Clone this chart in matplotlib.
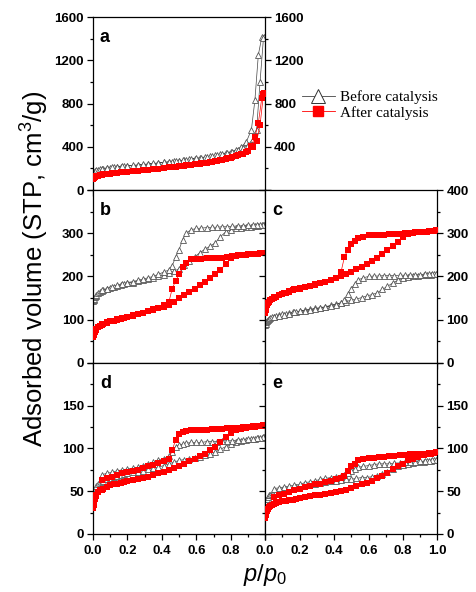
import matplotlib
matplotlib.use("Agg")
import matplotlib.pyplot as plt
from matplotlib.lines import Line2D
from matplotlib.ticker import MultipleLocator, FuncFormatter, FixedLocator

plt.rcParams['font.family'] = ['Liberation Sans', 'DejaVu Sans']
plt.rcParams['mathtext.fontset'] = 'custom'
plt.rcParams['mathtext.rm'] = 'Liberation Sans'
plt.rcParams['mathtext.it'] = 'Liberation Sans:italic'

# relative pressure grids (adsorption branch, then desorption branch)
p_ads = [0.001, 0.003, 0.006, 0.01, 0.015, 0.02, 0.03, 0.04, 0.05, 0.06, 0.08, 0.10,
         0.12, 0.14, 0.16, 0.18, 0.20, 0.23, 0.26, 0.29, 0.32, 0.35, 0.38, 0.41, 0.44,
         0.47, 0.50, 0.53, 0.56, 0.59, 0.62, 0.65, 0.68, 0.71, 0.74, 0.77, 0.80, 0.83,
         0.86, 0.89, 0.92, 0.94, 0.96, 0.98, 0.995]
p_des = [0.99, 0.97, 0.95, 0.93, 0.90, 0.87, 0.84, 0.81, 0.78, 0.75, 0.72, 0.69, 0.66,
         0.63, 0.60, 0.57, 0.54, 0.52, 0.50, 0.48, 0.46, 0.44, 0.41, 0.38, 0.35, 0.32,
         0.29, 0.26, 0.23, 0.20, 0.17, 0.14, 0.11, 0.08, 0.05]

# panel a
a_before_ads = [150, 160, 168, 175, 180, 184, 189, 193, 196, 199, 203, 207, 211, 214, 217,
                220, 223, 227, 231, 236, 240, 245, 250, 255, 260, 265, 271, 277, 283, 290,
                297, 305, 313, 322, 332, 342, 355, 372, 400, 444, 560, 830, 1250, 1415, 1420]
a_before_des = [1410, 1000, 560, 470, 420, 390, 370, 355, 345, 335, 325, 316, 308, 300, 293,
                286, 280, 276, 272, 268, 264, 261, 256, 251, 246, 241, 237, 232, 228, 224,
                219, 215, 209, 204, 197]
a_after_ads = [105, 112, 118, 122, 126, 130, 134, 138, 141, 144, 148, 152, 156, 160, 163,
               167, 170, 175, 180, 184, 189, 194, 199, 204, 209, 214, 220, 226, 232, 238,
               245, 252, 260, 268, 277, 287, 298, 312, 330, 355, 410, 490, 620, 850, 900]
a_after_des = [890, 600, 450, 400, 360, 338, 320, 305, 292, 281, 271, 262, 254, 247, 240,
               234, 228, 224, 220, 216, 212, 209, 204, 199, 194, 189, 184, 180, 175, 170,
               165, 160, 154, 148, 141]

# panel b
b_before_ads = [143, 146, 149, 152, 155, 158, 161, 164, 166, 168, 171, 174, 176, 178, 180,
                182, 184, 186, 189, 191, 194, 197, 200, 203, 207, 212, 218, 226, 235, 245,
                255, 263, 270, 278, 292, 303, 308, 311, 313, 314, 315, 316, 317, 318, 320]
b_before_des = [320, 320, 319, 319, 318, 317, 317, 316, 315, 315, 314, 314, 313, 312, 311,
                308, 300, 285, 262, 245, 225, 215, 210, 205, 200, 197, 194, 191, 188, 186,
                183, 180, 176, 172, 168]
b_after_ads = [60, 64, 68, 72, 76, 79, 83, 86, 88, 90, 93, 96, 98, 100, 102, 104, 106, 109,
               112, 115, 119, 122, 126, 130, 135, 142, 150, 157, 164, 172, 180, 188, 196,
               206, 216, 228, 243, 247, 249, 250, 251, 252, 253, 254, 255]
b_after_des = [255, 254, 253, 252, 251, 250, 249, 247, 244, 243, 243, 242, 242, 241, 240,
               240, 232, 222, 205, 190, 172, 140, 133, 128, 124, 120, 116, 113, 110, 107,
               104, 101, 98, 94, 90]

# panel c
c_before_ads = [88, 91, 94, 97, 100, 102, 104, 106, 107, 108, 110, 112, 114, 115, 117, 118,
                120, 122, 124, 126, 128, 130, 133, 136, 139, 142, 145, 148, 151, 155, 158,
                162, 170, 177, 185, 191, 196, 199, 201, 202, 203, 204, 204, 205, 206]
c_before_des = [206, 205, 205, 205, 204, 204, 203, 203, 203, 202, 202, 202, 201, 201, 200,
                197, 192, 183, 172, 160, 145, 139, 135, 132, 129, 127, 125, 123, 121, 119,
                117, 114, 111, 109, 107]
c_after_ads = [115, 122, 128, 133, 138, 141, 145, 148, 150, 152, 156, 159, 162, 165, 168,
               170, 172, 175, 178, 181, 184, 187, 191, 196, 201, 206, 211, 217, 223, 229,
               235, 243, 252, 261, 270, 280, 292, 298, 300, 302, 303, 304, 305, 306, 307]
c_after_des = [307, 306, 305, 304, 303, 302, 301, 300, 299, 298, 298, 297, 297, 296, 295,
               292, 288, 283, 275, 262, 245, 210, 197, 192, 188, 185, 182, 179, 176, 173,
               170, 166, 161, 157, 152]

# panel d
d_before_ads = [44, 47, 50, 52, 54, 56, 58, 60, 61, 62, 64, 66, 67, 68, 69, 70, 71, 72, 73,
                74, 76, 77, 78, 80, 82, 84, 86, 87, 88, 89, 90, 92, 94, 96, 99, 102, 105,
                108, 109, 110, 111, 111, 112, 112, 113]
d_before_des = [113, 112, 112, 111, 111, 110, 110, 109, 109, 109, 108, 108, 108, 107, 107,
                107, 106, 105, 104, 102, 96, 91, 88, 86, 84, 82, 80, 78, 77, 76, 75, 74,
                72, 71, 69]
d_after_ads = [30, 34, 38, 41, 44, 46, 49, 51, 52, 53, 55, 57, 58, 59, 60, 61, 62, 63, 64,
               66, 67, 69, 71, 73, 75, 77, 79, 82, 85, 88, 91, 94, 98, 102, 107, 113, 118,
               121, 123, 124, 125, 125, 126, 126, 127]
d_after_des = [127, 126, 126, 126, 125, 125, 124, 124, 124, 123, 123, 123, 122, 122, 121,
               121, 120, 119, 117, 110, 98, 88, 85, 83, 81, 79, 77, 75, 74, 72, 71, 69,
               67, 65, 63]

# panel e
e_before_ads = [33, 36, 39, 41, 43, 45, 46, 47, 48, 49, 50, 51, 52, 53, 54, 55, 56, 57, 58,
                59, 60, 61, 62, 62, 63, 64, 64, 65, 66, 66, 67, 68, 70, 73, 76, 79, 81, 82,
                83, 84, 84, 85, 85, 86, 86]
e_before_des = [86, 86, 85, 85, 85, 84, 84, 84, 83, 83, 82, 82, 82, 81, 80, 79, 78, 76, 74,
                71, 69, 68, 67, 66, 65, 64, 62, 61, 60, 58, 57, 56, 55, 54, 53]
e_after_ads = [19, 22, 25, 27, 29, 31, 33, 34, 35, 36, 37, 38, 39, 40, 40, 41, 42, 43, 44,
               45, 46, 47, 48, 49, 50, 52, 54, 56, 58, 60, 62, 65, 68, 71, 76, 79, 82, 86,
               88, 90, 92, 93, 94, 95, 96]
e_after_des = [96, 95, 95, 94, 94, 93, 93, 92, 92, 91, 91, 90, 90, 89, 89, 88, 86, 82, 79,
               74, 68, 66, 64, 62, 61, 59, 58, 56, 55, 53, 51, 49, 47, 45, 43]

panel_letters = ['a', 'b', 'c', 'd', 'e']
legend_labels = ['Before catalysis', 'After catalysis']

fig = plt.figure(figsize=(4.77, 5.92), dpi=100)

xl, xr, w = 0.195, 0.556, 0.361
row_a = (0.679, 0.292)
row_b = (0.387, 0.292)
row_d = (0.098, 0.289)

ax_a = fig.add_axes([xl, row_a[0], w, row_a[1]])
ax_b = fig.add_axes([xl, row_b[0], w, row_b[1]])
ax_c = fig.add_axes([xr, row_b[0], w, row_b[1]])
ax_d = fig.add_axes([xl, row_d[0], w, row_d[1]])
ax_e = fig.add_axes([xr, row_d[0], w, row_d[1]])
axes = [ax_a, ax_b, ax_c, ax_d, ax_e]

data = [(a_before_ads, a_before_des, a_after_ads, a_after_des),
        (b_before_ads, b_before_des, b_after_ads, b_after_des),
        (c_before_ads, c_before_des, c_after_ads, c_after_des),
        (d_before_ads, d_before_des, d_after_ads, d_after_des),
        (e_before_ads, e_before_des, e_after_ads, e_after_des)]

ylims = [1600, 400, 400, 200, 200]
ymaj = [400, 100, 100, 50, 50]
ymin = [200, 50, 50, 25, 25]
# which side gets y labels, and whether the top value is left unlabelled
yshow = [('both', False), ('left', True), ('right', False), ('left', True), ('right', True)]

p_all = p_ads + p_des
tick_font = dict(family='Liberation Sans', weight='bold', size=9.5)

for i, ax in enumerate(axes):
    bads, bdes, aads, ades = data[i]
    ax.plot(p_all, bads + bdes, '-', color='#444444', lw=0.5, marker='^', ms=5,
            mfc='white', mec='#555555', mew=0.6, zorder=2)
    ax.plot(p_all, aads + ades, '-', color='red', lw=0.5, marker='s', ms=3.8,
            mfc='red', mec='red', mew=0, zorder=3)
    ax.set_xlim(0, 1)
    ax.set_ylim(0, ylims[i])
    ax.xaxis.set_major_locator(MultipleLocator(0.2))
    ax.xaxis.set_minor_locator(MultipleLocator(0.1))
    ax.yaxis.set_major_locator(MultipleLocator(ymaj[i]))
    ax.yaxis.set_minor_locator(MultipleLocator(ymin[i]))
    ax.tick_params(axis='both', which='both', direction='out', width=0.9,
                   left=True, right=True, top=False, bottom=True)
    ax.tick_params(which='major', length=4.5)
    ax.tick_params(which='minor', length=2.5)
    for s in ax.spines.values():
        s.set_linewidth(0.9)

    side, hide_top = yshow[i]
    top = ylims[i]
    ax.tick_params(axis='y', labelleft=(side in ('left', 'both')),
                   labelright=(side in ('right', 'both')), pad=2)

    def yfmt(v, pos, top=top, hide_top=hide_top):
        if hide_top and abs(v - top) < 1e-6:
            return ''
        return '%d' % round(v)
    ax.yaxis.set_major_formatter(FuncFormatter(yfmt))

    if i == 3:
        ax.xaxis.set_major_formatter(FuncFormatter(lambda v, pos: '' if v > 0.95 else '%.1f' % v))
    elif i == 4:
        ax.xaxis.set_major_formatter(FuncFormatter(lambda v, pos: '%.1f' % v))
    else:
        ax.tick_params(axis='x', labelbottom=False)
    for lab in ax.get_xticklabels() + ax.get_yticklabels():
        lab.set_fontproperties(tick_font)
    for t in ax.yaxis.get_major_ticks():
        t.label2.set_fontproperties(tick_font)

    ax.text(0.04, 0.93, panel_letters[i], transform=ax.transAxes, ha='left', va='top',
            fontsize=13, fontweight='bold')

# panel a: fixed ticks so the right-hand 0 can be dropped
ax_a.yaxis.set_major_locator(FixedLocator([0, 400, 800, 1200, 1600]))
for t in ax_a.yaxis.get_major_ticks():
    t.label1.set_fontproperties(tick_font)
    t.label2.set_fontproperties(tick_font)
ax_a.yaxis.get_major_ticks()[0].label2.set_visible(False)

fig.text(0.073, 0.545, 'Adsorbed volume (STP, cm$^3$/g)', rotation=90, ha='center',
         va='center', fontsize=18.5)
fig.text(0.556, 0.028, r'$p/p_\mathrm{0}$', ha='center', va='center', fontsize=17)

handles = [Line2D([], [], color='#444444', lw=0.6, marker='^', ms=10, mfc='white',
                  mec='#333333', mew=0.7),
           Line2D([], [], color='red', lw=0.6, marker='s', ms=7, mfc='red', mec='red')]
fig.legend(handles, legend_labels, loc='upper left', bbox_to_anchor=(0.61, 0.865),
           frameon=False, prop=dict(family='Liberation Serif', size=11),
           handlelength=2.2, handletextpad=0.3, labelspacing=0.1, borderpad=0.2)

fig.savefig('out.png', dpi=100)
